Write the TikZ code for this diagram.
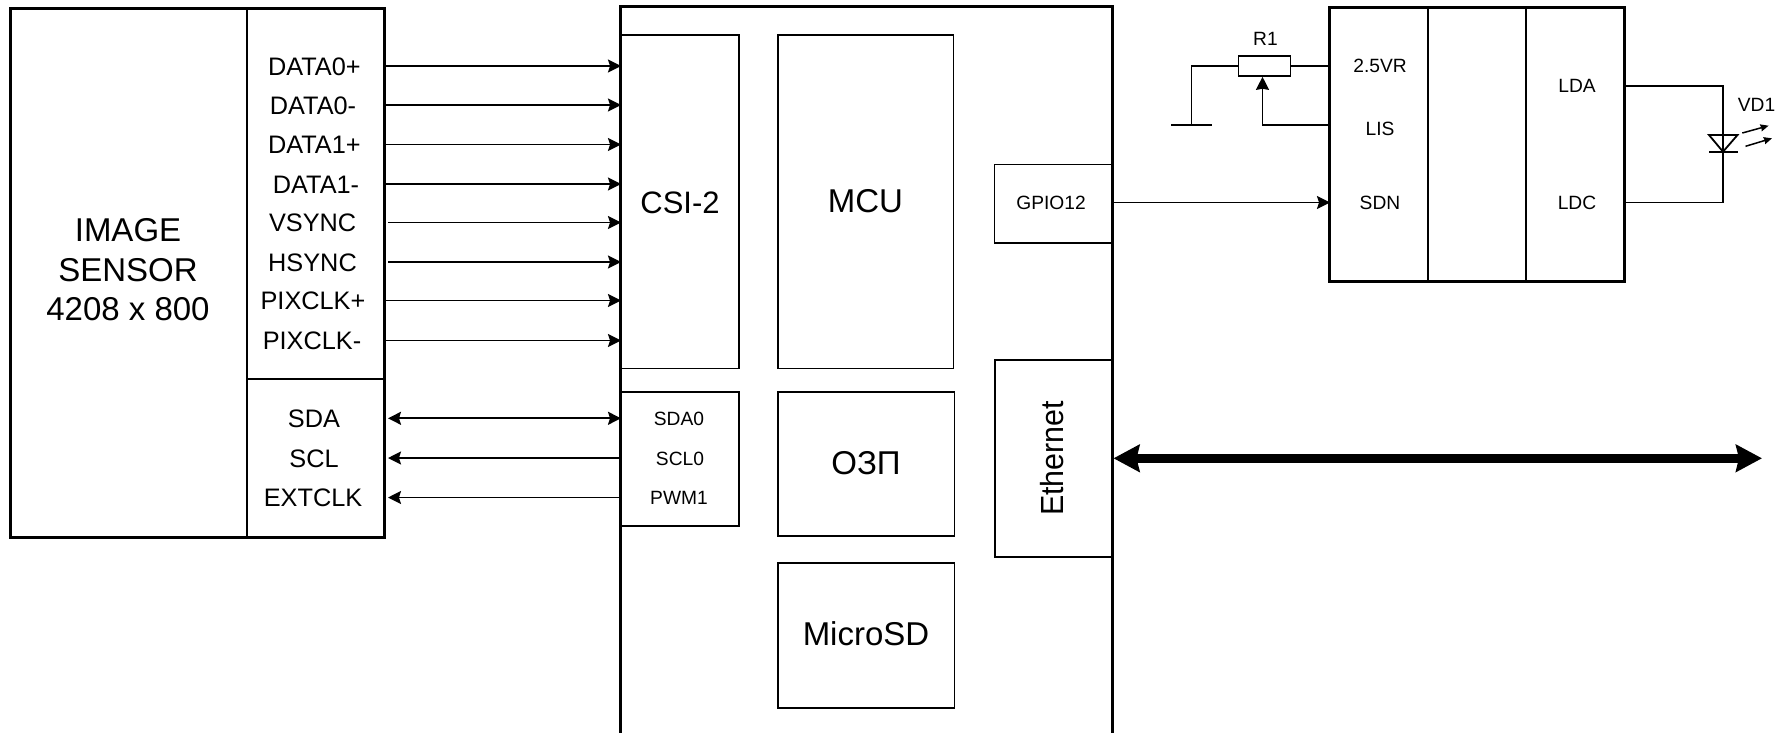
\documentclass[tikz,border=0pt]{standalone}
\usepackage{fontspec}
\setmainfont{Liberation Sans}
\usetikzlibrary{arrows.meta,calc}
\newcommand{\blk}[6][]{%
  \pgfmathsetmacro{\blkw}{#5-#3}\pgfmathsetmacro{\blkh}{#6-#4}%
  \pgfmathsetmacro{\blkx}{(#5+#3)/2}\pgfmathsetmacro{\blky}{(#6+#4)/2}%
  \node[thinbox,minimum width=\blkw pt,minimum height=\blkh pt,#1] (#2) at (\blkx,\blky) {};}
\tikzset{
  thinbox/.style={draw,rectangle,inner sep=0pt,line width=1.6pt,color=black,fill=none},
  thickbox/.style={line width=3pt},
  biglab/.style={font=\fontsize{33}{39.5}\selectfont,align=center,inner sep=0pt},
  midlab/.style={font=\fontsize{25.3}{30}\selectfont,inner sep=0pt,text height=18pt,text depth=0pt},
  smallab/.style={font=\fontsize{19.2}{24}\selectfont,inner sep=0pt,text height=14pt,text depth=0pt},
  headtip/.style={},
  sig/.style={line width=1.8pt,shorten >=-2pt,-{Stealth[length=13pt,width=13pt,inset=2pt]}},
  sigback/.style={line width=1.8pt,shorten >=2pt,-{Stealth[length=13pt,width=13pt,inset=2pt]}},
  sigboth/.style={line width=1.8pt,shorten <=2pt,shorten >=-2pt,{Stealth[length=13pt,width=13pt,inset=2pt]}-{Stealth[length=13pt,width=13pt,inset=2pt]}},
  wire/.style={line width=1.8pt},
  bus/.style={line width=8.5pt,{Stealth[length=26pt,width=27pt,inset=3pt]}-{Stealth[length=26pt,width=27pt,inset=3pt]}},
  ray/.style={line width=1.5pt,-{Stealth[length=8pt,width=7pt,inset=0.5pt]}}
}
\begin{document}
\begin{tikzpicture}[x=1pt,y=-1pt]
\useasboundingbox (0,0) rectangle (1786,732);
% image sensor
\blk{pinsa}{247}{8}{384.5}{379}
\blk{pinsb}{247}{379}{384.5}{537}
\blk[thickbox]{sensor}{10}{8}{384.5}{537}
\node[biglab] (senslab) at (128,270) {IMAGE\\SENSOR\\4208 x 800};
\node[midlab] (ld0p) at (314.4,66) {DATA0+};
\node[midlab] (ld0m) at (313,105) {DATA0-};
\node[midlab] (ld1p) at (314.4,144.5) {DATA1+};
\node[midlab] (ld1m) at (316,184) {DATA1-};
\node[midlab] (lvs) at (312.6,222.5) {VSYNC};
\node[midlab] (lhs) at (312.5,262) {HSYNC};
\node[midlab] (lpp) at (313,300.5) {PIXCLK+};
\node[midlab] (lpm) at (312,340.5) {PIXCLK-};
\node[midlab] (lsda) at (314,418.3) {SDA};
\node[midlab] (lscl) at (314,458) {SCL};
\node[midlab] (lext) at (313,497.5) {EXTCLK};
% main board
\blk[thickbox]{main}{620.5}{6.5}{1112}{736}
\blk{csi}{620.5}{34.7}{739}{368.5}
\node[font=\fontsize{31}{36}\selectfont,inner sep=0pt] (csilab) at (680,203) {CSI-2};
\blk{i2c}{620.5}{391.7}{739}{525.7}
\node[smallab] (lsda0) at (679,418.3) {SDA0};
\node[smallab] (lscl0) at (680,458) {SCL0};
\node[smallab] (lpwm) at (679,497.5) {PWM1};
\blk{mcu}{778}{34.7}{953.5}{368.5}
\node[biglab] (mculab) at (865.5,201) {MCU};
\blk{ram}{778}{391.7}{954.5}{536}
\node[biglab] (ramlab) at (866,463) {ОЗП};
\blk{sd}{778}{562.7}{954.5}{707.7}
\node[biglab] (sdlab) at (866,634) {MicroSD};
\blk{gpio}{994.5}{164.6}{1112}{243}
\node[smallab] (gpiolab) at (1051,202.5) {GPIO12};
\blk{eth}{995}{360}{1112}{556.7}
\node[rotate=90,inner sep=0pt,font=\fontsize{32}{38}\selectfont] (ethlab) at (1052,458.5) {\scalebox{0.95}[1]{Ethernet}};
% laser driver
\blk{drvmid}{1428}{7}{1526}{281.5}
\blk[thickbox]{drv}{1329.5}{7}{1624.5}{281.5}
\node[smallab] (l25) at (1380,65.5) {2.5VR};
\node[smallab] (llis) at (1380,128) {LIS};
\node[smallab] (lsdn) at (1380,202.5) {SDN};
\node[smallab] (llda) at (1577,85.7) {LDA};
\node[smallab] (lldc) at (1577,202.5) {LDC};
% R1
\blk{rone}{1238.5}{56}{1290.5}{76}
\node[smallab] (ronelab) at (1265.5,38) {R1};
\coordinate (gndtop) at (1191.4,125);
\coordinate (gndl) at (1171,125);
\coordinate (gndr) at (1212,125);
\coordinate (wipe) at (1262.5,125);
\draw[wire] (drv.west |- rone) -- (rone.east);
\draw[wire] (rone.west) -| (gndtop);
\draw[wire] (gndl) -- (gndr);
\draw[wire,-{Stealth[length=13pt,width=13pt,inset=1pt]}] (drv.west |- wipe) -- (wipe) -- (wipe |- rone.south);
% diode
\node[smallab] (vdlab) at (1756.5,104) {VD1};
\coordinate (dt1) at (1709,135);
\coordinate (dt2) at (1737.5,135);
\coordinate (dtip) at (1723,151.7);
\coordinate (db1) at (1709,151.7);
\coordinate (db2) at (1737.5,151.7);
\coordinate (ra1) at (1742.3,133);
\coordinate (ra2) at (1768.6,125.7);
\coordinate (rb1) at (1745.5,146.3);
\coordinate (rb2) at (1772,138.3);
\draw[wire] (drv.east |- llda) -| (dtip |- lsdn) -- (drv.east |- lsdn);
\draw[wire] (dt1) -- (dt2) -- (dtip) -- cycle;
\draw[wire] (db1) -- (db2);
\draw[ray] (ra1) -- (ra2);
\draw[ray] (rb1) -- (rb2);
% connectors
\foreach \n in {ld0p,ld0m,ld1p,ld1m,lpp,lpm}
  \draw[sig] (sensor.east |- \n) -- (main.west |- \n);
\foreach \n in {lvs,lhs}
  \draw[sig,shorten <=2pt] (sensor.east |- \n) -- (main.west |- \n);
\draw[sigboth] (sensor.east |- lsda) -- (main.west |- lsda);
\draw[sigback] (main.west |- lscl) -- (sensor.east |- lscl);
\draw[sigback] (main.west |- lext) -- (sensor.east |- lext);
\draw[sig] (main.east |- lsdn) -- (drv.west |- lsdn);
\coordinate (busend) at (1762,458.3);
\draw[bus] (main.east |- busend) -- (busend);
\end{tikzpicture}
\end{document}
